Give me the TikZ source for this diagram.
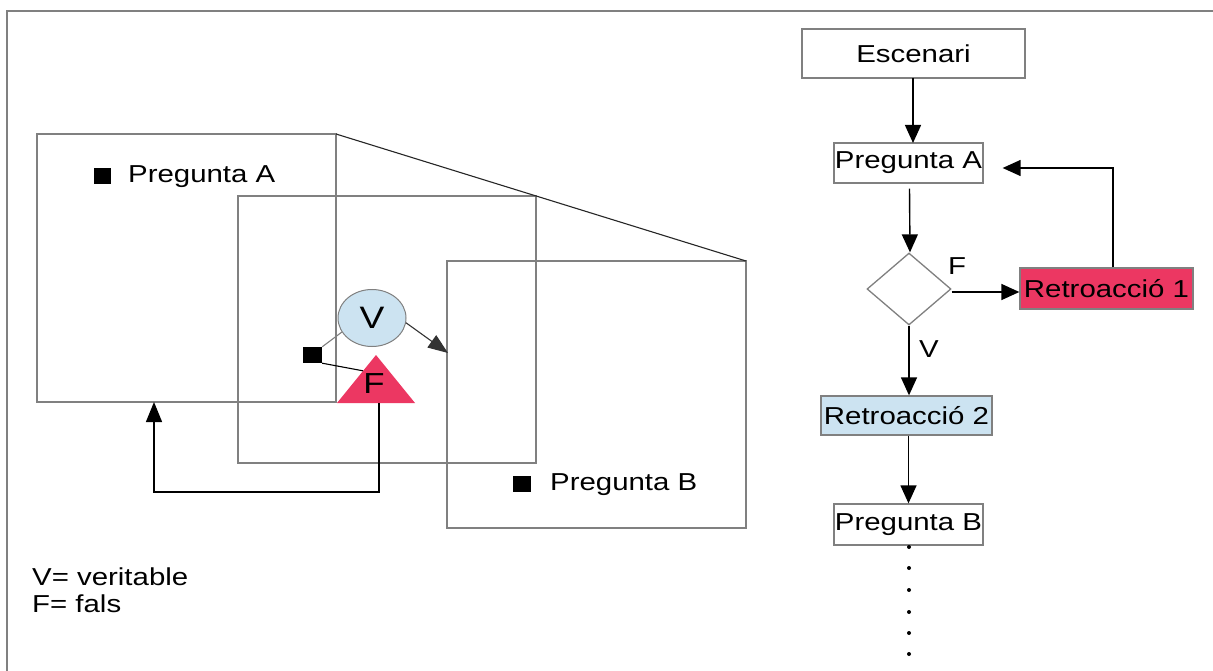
\documentclass[tikz,border=0pt]{standalone}
\usepackage{fontspec}
\setmainfont{Liberation Sans}
\usetikzlibrary{shapes.geometric,arrows.meta,calc}
\definecolor{fred}{HTML}{EC3762}
\definecolor{fblue}{HTML}{CCE3F1}
\definecolor{edgegray}{HTML}{808080}
\newcommand{\tx}[1]{\scalebox{1.2}[1]{#1}}
\begin{document}
\begin{tikzpicture}[x=1pt,y=-1pt,
  lbl/.style={font=\fontsize{24.5}{28}\selectfont, inner sep=0pt},
  fbox/.style={draw=edgegray, line width=1.3pt, inner sep=0pt, font=\fontsize{24.5}{28}\selectfont},
  frame/.style={draw=edgegray, line width=1.2pt},
  arr/.style={line width=1.4pt, -{Triangle[length=18pt,width=16pt]}},
  blk/.style={fill=black, draw=none, inner sep=0pt}
]
\useasboundingbox (0,0) rectangle (1213,671);
\fill[white] (0,0) rectangle (1213,671);
% outer frame
\draw[edgegray, line width=2pt] (7,671) -- (7,11) -- (1213,11);

% ---------- left part ----------
\draw[frame] (37,134) rectangle (336,402);
\draw[frame] (238,196) rectangle (536,463);
\draw[frame] (447,261) rectangle (746,528);
\coordinate (aTR) at (336,134);
\coordinate (bTR) at (746,261);
\draw[line width=1.1pt, black!85] (aTR) -- (bTR);

\node[blk, minimum width=17pt, minimum height=16pt] (sqA) at (102.5,176) {};
\node[lbl, anchor=west] (tA) at (128,177) {\tx{Pregunta A}};
\node[blk, minimum width=18pt, minimum height=16pt] (sqB) at (522,484) {};
\node[lbl, anchor=west] (tB) at (550,485) {\tx{Pregunta B}};

\node[ellipse, draw=edgegray, fill=fblue, line width=1pt, minimum width=68pt, minimum height=57pt, inner sep=0pt,
      font=\fontsize{31}{34}\selectfont] (V) at (372,318) {\tx{V}};
\coordinate (tTop) at (376,355);
\coordinate (tL) at (337,403);
\coordinate (tR) at (415,403);
\fill[fred] (tTop) -- (tL) -- (tR) -- cycle;
\node[lbl, font=\fontsize{29}{32}\selectfont] (F) at (374,384) {\tx{F}};
\node[blk, minimum width=19pt, minimum height=16pt] (sq) at (312.5,355) {};
\draw[edgegray, line width=1.1pt] (sq.north east) -- (V.205);
\draw[black, line width=1.1pt] (sq.south east) -- ($(tTop)!0.33!(tL)$);
\coordinate (bIn) at (448,353);
\draw[line width=1.1pt, black!80, -{Triangle[length=20pt,width=15pt]}] (V.-8) -- (bIn);
\coordinate (fBot) at (379,403);
\coordinate (loopA) at (154,402);
\draw[line width=1.3pt, -{Triangle[length=20pt,width=16pt]}] (fBot) -- (379,492) -| (loopA);

\node[lbl, anchor=west] (leg1) at (32,577) {\tx{V= veritable}};
\node[lbl, anchor=west] (leg2) at (32,604) {\tx{F= fals}};

% ---------- right flowchart ----------
\node[fbox, minimum width=223pt, minimum height=49pt] (esc) at (913.5,53.5) {\tx{Escenari}};
\node[fbox, minimum width=149pt, minimum height=40pt] (pa) at (908.5,163) {\tx{Pregunta A}};
\node[diamond, draw=edgegray, line width=1.3pt, minimum width=84pt, minimum height=72pt, inner sep=0pt] (dia) at (909,289) {};
\node[fbox, fill=fred, minimum width=173pt, minimum height=41pt] (r1) at (1106.5,288.5) {\tx{Retroacció 1}};
\node[fbox, fill=fblue, minimum width=171pt, minimum height=39pt] (r2) at (906.5,415.5) {\tx{Retroacció 2}};
\node[fbox, minimum width=149pt, minimum height=41pt] (pb) at (908.5,524.5) {\tx{Pregunta B}};

\draw[arr] (913,78) -- (913,143);
\draw[arr] ([xshift=1pt,yshift=-5pt]pa.south) -- ([xshift=1pt]dia.north);
\draw[arr] ([yshift=-3pt]dia.east) -- ([yshift=-3pt]dia.east -| r1.west);
\draw[arr] ([xshift=6.5pt]r1.north) |- ([xshift=19pt,yshift=-5pt]pa.east);
\draw[arr] (dia.south) -- (dia.south |- r2.north);
\draw[arr] (r2.south -| pb.north) -- (pb.north);
\node[lbl] (lF) at (957,266) {\tx{F}};
\node[lbl] (lV) at (929,349) {\tx{V}};
\foreach \yy in {547,568,590,612,633,654} \fill (909,\yy) circle (2pt);
\end{tikzpicture}
\end{document}
